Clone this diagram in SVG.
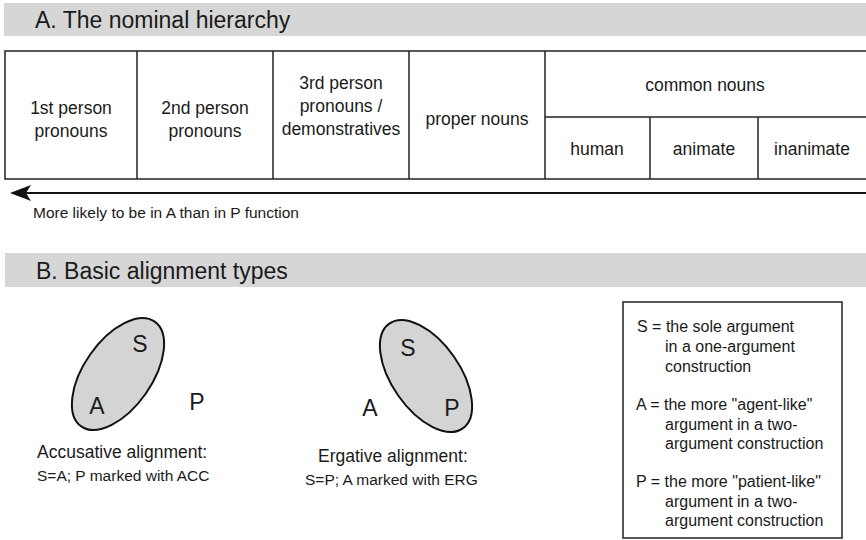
<svg xmlns="http://www.w3.org/2000/svg" width="866" height="540" viewBox="0 0 866 540">
<style>
text{font-family:"Liberation Sans",Arial,sans-serif;fill:#1a1a1a}
.hd{font-size:23px}
.cell{font-size:17.5px;text-anchor:middle}
.lbl{font-size:23px;text-anchor:middle}
.cap{font-size:17.5px}
.sub{font-size:15.5px}
.leg{font-size:16px}
.band{fill:#d6d6d6}
.ln{stroke:#222;stroke-width:1.5;fill:none}
.ell{fill:#d4d4d4;stroke:#111;stroke-width:2}
</style>
<rect width="866" height="540" fill="#fff"/>
<g id="headerA">
<rect class="band" x="4" y="3" width="862" height="33"/>
<text class="hd" x="35" y="28">A. The nominal hierarchy</text>
</g>
<g id="table">
<rect class="ln" x="5" y="51" width="870" height="128"/>
<line class="ln" x1="137" y1="51" x2="137" y2="179"/>
<line class="ln" x1="273" y1="51" x2="273" y2="179"/>
<line class="ln" x1="409" y1="51" x2="409" y2="179"/>
<line class="ln" x1="545" y1="51" x2="545" y2="179"/>
<line class="ln" x1="545" y1="117" x2="866" y2="117"/>
<line class="ln" x1="650" y1="117" x2="650" y2="179"/>
<line class="ln" x1="758" y1="117" x2="758" y2="179"/>
</g>
<g id="n1"><text class="cell" x="71" y="114">1st person</text><text class="cell" x="71" y="137">pronouns</text></g>
<g id="n2"><text class="cell" x="205" y="114">2nd person</text><text class="cell" x="205" y="137">pronouns</text></g>
<g id="n3"><text class="cell" x="341" y="89">3rd person</text><text class="cell" x="341" y="112">pronouns /</text><text class="cell" x="341" y="135">demonstratives</text></g>
<g id="n4"><text class="cell" x="477" y="125">proper nouns</text></g>
<g id="n5"><text class="cell" x="705" y="91">common nouns</text></g>
<g id="n6"><text class="cell" x="597" y="155">human</text></g>
<g id="n7"><text class="cell" x="704" y="155">animate</text></g>
<g id="n8"><text class="cell" x="812" y="155">inanimate</text></g>
<g id="connectors">
<line x1="866" y1="193" x2="24" y2="193" stroke="#111" stroke-width="2"/>
<path d="M10,193 L31,185 L26,193 L31,201 Z" fill="#111"/>
</g>
<g id="arrowLabel"><text class="sub" x="33" y="218">More likely to be in A than in P function</text></g>
<g id="headerB">
<rect class="band" x="5" y="253" width="861" height="34"/>
<text class="hd" x="36" y="279">B.  Basic alignment types</text>
</g>
<g id="accusative">
<ellipse class="ell" cx="118" cy="374" rx="64" ry="34" transform="rotate(-55 118 374)"/>
<text class="lbl" x="140" y="352">S</text>
<text class="lbl" x="97" y="414">A</text>
<text class="lbl" x="197" y="410">P</text>
<text class="cap" x="37" y="458">Accusative alignment:</text>
<text class="sub" x="37" y="481">S=A;  P marked with ACC</text>
</g>
<g id="ergative">
<ellipse class="ell" cx="426" cy="376" rx="64" ry="34" transform="rotate(55 426 376)"/>
<text class="lbl" x="408" y="356">S</text>
<text class="lbl" x="452" y="416">P</text>
<text class="lbl" x="370" y="416">A</text>
<text class="cap" x="318" y="462">Ergative alignment:</text>
<text class="sub" x="305" y="485">S=P;  A marked with ERG</text>
</g>
<g id="legend">
<rect x="623" y="302" width="219" height="236" fill="#fff" stroke="#222" stroke-width="1.5"/>
<text class="leg" x="637" y="332">S = the sole argument</text>
<text class="leg" x="665" y="352">in a one-argument</text>
<text class="leg" x="665" y="372">construction</text>
<text class="leg" x="636" y="410">A = the more "agent-like"</text>
<text class="leg" x="665" y="430">argument in a two-</text>
<text class="leg" x="665" y="449">argument construction</text>
<text class="leg" x="636" y="487">P = the more "patient-like"</text>
<text class="leg" x="665" y="507">argument in a two-</text>
<text class="leg" x="665" y="526">argument construction</text>
</g>
</svg>
